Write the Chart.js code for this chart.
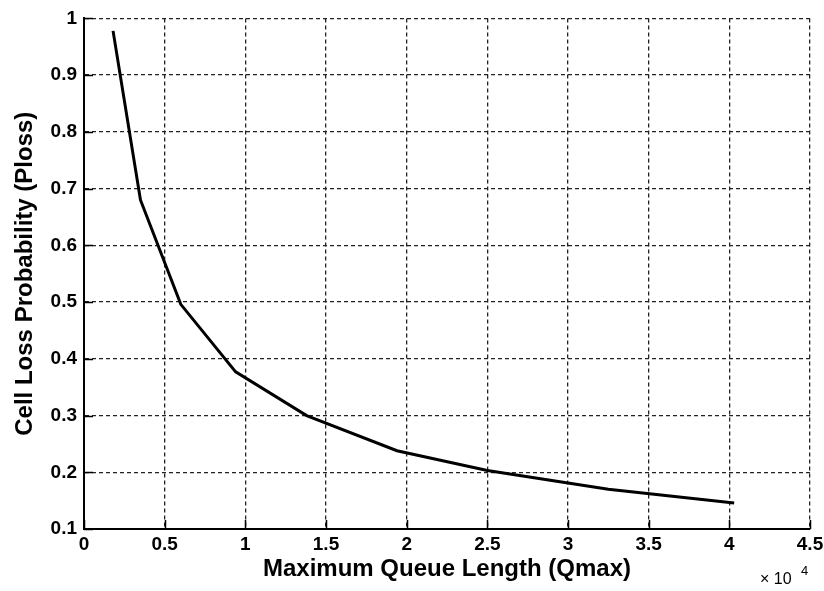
<!DOCTYPE html>
<html>
<head>
<meta charset="utf-8">
<script src="https://cdn.jsdelivr.net/npm/chart.js@4.4.1/dist/chart.umd.min.js"></script>
<style>
  html, body { margin: 0; padding: 0; background: #fff; }
  #wrap { width: 824px; height: 591px; }
</style>
</head>
<body>
<div id="wrap"><canvas id="chart" width="824" height="591"></canvas></div>
<script>
// Qmax (queue length) vs cell loss probability
const qmaxValues = [1800, 3500, 6000, 9400, 13800, 19400, 25000, 32500, 40300];
const plossValues = [0.978, 0.68, 0.496, 0.377, 0.3, 0.238, 0.203, 0.17, 0.146];

const xTickStep = 5000;
const yTickStep = 0.1;

const points = qmaxValues.map((q, i) => ({ x: q, y: plossValues[i] }));

// small inward tick marks like the matlab figure, plus the "x 10^4" note
const axisExtras = {
  id: 'axisExtras',
  afterDraw(chart) {
    const { ctx, chartArea, scales } = chart;
    const len = 9;
    ctx.save();
    ctx.strokeStyle = '#000';
    ctx.lineWidth = 1.5;
    ctx.beginPath();
    scales.x.ticks.forEach((t) => {
      const px = Math.round(scales.x.getPixelForValue(t.value)) + 0.5;
      ctx.moveTo(px, chartArea.bottom);
      ctx.lineTo(px, chartArea.bottom - len);
    });
    scales.y.ticks.forEach((t) => {
      const py = Math.round(scales.y.getPixelForValue(t.value)) + 0.5;
      ctx.moveTo(chartArea.left, py);
      ctx.lineTo(chartArea.left + len, py);
    });
    ctx.stroke();

    ctx.fillStyle = '#000';
    ctx.textBaseline = 'alphabetic';
    ctx.font = '16px "Liberation Sans", Arial, sans-serif';
    ctx.fillText('\u00d7 10', chartArea.right - 50, chartArea.bottom + 55);
    ctx.font = '13px "Liberation Sans", Arial, sans-serif';
    ctx.fillText('4', chartArea.right - 9, chartArea.bottom + 46);
    ctx.restore();
  }
};

const ctx = document.getElementById('chart').getContext('2d');
new Chart(ctx, {
  type: 'scatter',
  data: {
    datasets: [{
      label: 'Ploss',
      data: points,
      showLine: true,
      borderColor: '#000',
      backgroundColor: '#000',
      borderWidth: 3,
      pointRadius: 0,
      tension: 0,
    }],
  },
  options: {
    responsive: false,
    animation: false,
    layout: { padding: { left: 0, right: 14, top: 18, bottom: 0 } },
    plugins: {
      legend: { display: false },
      tooltip: { enabled: false },
    },
    scales: {
      x: {
        type: 'linear',
        min: 0,
        max: 45000,
        afterFit: (scale) => {
          scale.height = 62;
          scale.paddingLeft = 0;
          scale.paddingRight = 0;
        },
        ticks: {
          stepSize: xTickStep,
          padding: 4,
          color: '#000',
          font: { family: '"Liberation Sans", Arial, sans-serif', size: 19, weight: 'bold' },
          callback: (v) => String(v / 10000),
          maxRotation: 0,
        },
        grid: { color: '#222', lineWidth: 1.3, drawTicks: false },
        border: { display: true, color: '#000', width: 2, dash: [4, 3] },
        title: {
          display: true,
          text: 'Maximum Queue Length (Qmax)',
          color: '#000',
          font: { family: '"Liberation Sans", Arial, sans-serif', size: 24, weight: 'bold' },
          padding: { top: 0, bottom: 7 },
        },
      },
      y: {
        min: 0.1,
        max: 1,
        afterFit: (scale) => { scale.width = 84; },
        ticks: {
          stepSize: yTickStep,
          padding: 7,
          color: '#000',
          font: { family: '"Liberation Sans", Arial, sans-serif', size: 19, weight: 'bold' },
          callback: (v) => String(Number(v.toFixed(1))),
        },
        grid: { color: '#222', lineWidth: 1.3, drawTicks: false },
        border: { display: true, color: '#000', width: 2, dash: [4, 3] },
        title: {
          display: true,
          text: 'Cell Loss Probability (Ploss)',
          color: '#000',
          font: { family: '"Liberation Sans", Arial, sans-serif', size: 24, weight: 'bold' },
          padding: { top: 11, bottom: 0 },
        },
      },
    },
  },
  plugins: [axisExtras],
});
</script>
</body>
</html>
